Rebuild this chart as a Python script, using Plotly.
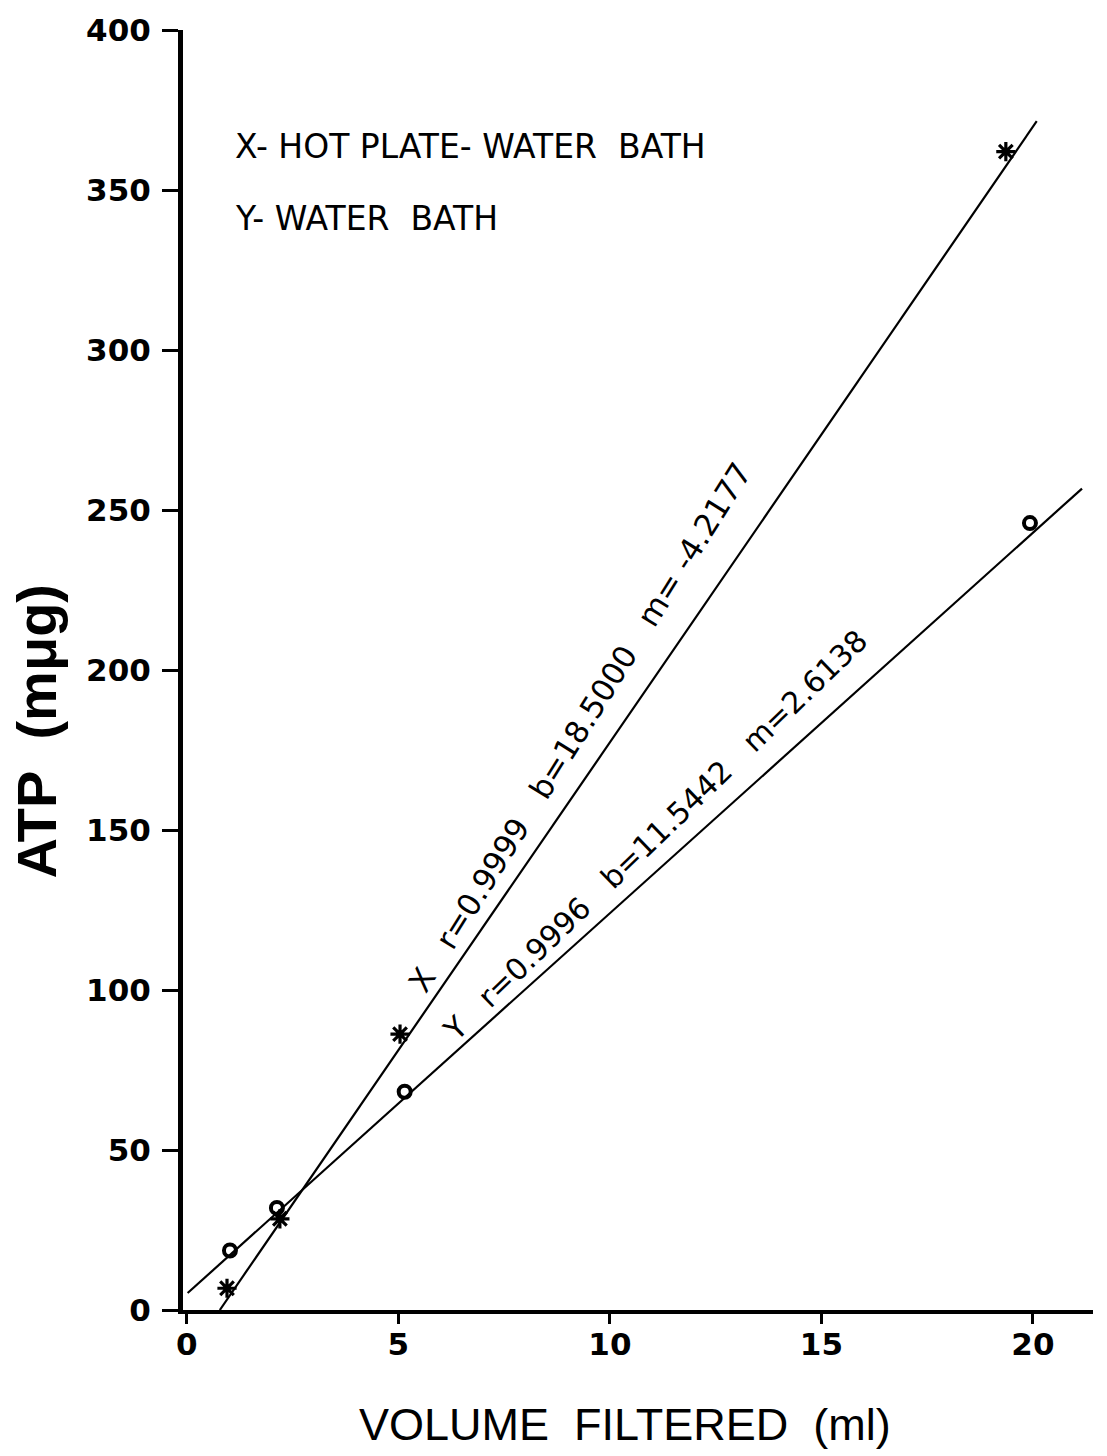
import plotly.graph_objects as go

# Measured points: X = hot plate + water bath, Y = water bath only
x_vol = [0.95, 2.2, 5.04, 19.36]
x_atp = [6.8, 28.5, 86.2, 362.0]
y_vol = [1.02, 2.13, 5.15, 19.93]
y_atp = [18.6, 31.9, 68.2, 245.9]

# Fitted regression lines (end points)
x_fit_vol = [0.78, 20.09]
x_fit_atp = [0.0, 371.5]
y_fit_vol = [0.02, 21.16]
y_fit_atp = [5.3, 256.7]

x_ticks = [0, 5, 10, 15, 20]
y_ticks = [0, 50, 100, 150, 200, 250, 300, 350, 400]

NB = "\u00a0"
x_stats = f"X{NB*3}r=0.9999{NB*3}b=18.5000{NB*3}m={NB}-4.2177"
y_stats = f"Y{NB*3}r=0.9996{NB*3}b=11.5442{NB*3}m=2.6138"

INK = "black"
FONT = "DejaVu Sans"

fig = go.Figure()

for fx, fy in ((x_fit_vol, x_fit_atp), (y_fit_vol, y_fit_atp)):
    fig.add_trace(go.Scatter(x=fx, y=fy, mode="lines",
                             line=dict(color=INK, width=2.2),
                             showlegend=False, cliponaxis=False))

fig.add_trace(go.Scatter(x=x_vol, y=x_atp, mode="markers",
                         marker=dict(symbol="asterisk-open", size=16, color=INK,
                                     line=dict(color=INK, width=3.2)),
                         showlegend=False, cliponaxis=False))
fig.add_trace(go.Scatter(x=y_vol, y=y_atp, mode="markers",
                         marker=dict(symbol="circle-open", size=12, color=INK,
                                     line=dict(color=INK, width=4)),
                         showlegend=False, cliponaxis=False))

annotations = [
    dict(x=1.09, y=363.5, xref="x", yref="y",
         text=f"X-{NB}HOT{NB}PLATE-{NB}WATER{NB*2}BATH",
         showarrow=False, xanchor="left", yanchor="middle",
         font=dict(family=FONT, size=33, color=INK)),
    dict(x=1.09, y=341, xref="x", yref="y",
         text=f"Y-{NB}WATER{NB*2}BATH",
         showarrow=False, xanchor="left", yanchor="middle",
         font=dict(family=FONT, size=33, color=INK)),
    dict(x=9.29, y=182.3, xref="x", yref="y", text=x_stats, textangle=-58,
         showarrow=False, xanchor="center", yanchor="middle",
         font=dict(family=FONT, size=31, color=INK)),
    dict(x=11.07, y=148.2, xref="x", yref="y", text=y_stats, textangle=-44,
         showarrow=False, xanchor="center", yanchor="middle",
         font=dict(family=FONT, size=30, color=INK)),
    # axis titles
    dict(x=37, y=1456 - 727, xref="paper", yref="paper", text=f"ATP{NB*2}(m\u03bcg)",
         textangle=-90, showarrow=False, xanchor="center", yanchor="middle",
         font=dict(family="Liberation Sans", size=56, color=INK, weight="bold")),
    dict(x=625, y=1456 - 1425, xref="paper", yref="paper",
         text=f"VOLUME{NB*2}FILTERED{NB*2}(ml)",
         showarrow=False, xanchor="center", yanchor="middle",
         font=dict(family="Liberation Sans", size=45, color=INK)),
]

# express the title positions in paper fractions of the plot area
L, R, T, B = 183, 14, 20, 146
PW, PH = 1107 - L - R, 1456 - T - B
for a in annotations[4:]:
    a["x"] = (a["x"] - L) / PW
    a["y"] = (a["y"] - B) / PH

fig.update_layout(
    width=1107, height=1456,
    margin=dict(l=L, r=R, t=T, b=B),
    paper_bgcolor="white", plot_bgcolor="white",
    annotations=annotations,
    xaxis=dict(
        range=[-0.09, 21.42], showgrid=False, zeroline=False,
        showline=True, linecolor=INK, linewidth=4,
        ticks="outside", ticklen=10, tickwidth=2.5, tickcolor=INK,
        tickvals=x_ticks, ticklabelstandoff=-6,
        tickfont=dict(family=FONT, size=31, color=INK, weight="bold"),
    ),
    yaxis=dict(
        range=[0, 400], showgrid=False, zeroline=False,
        showline=True, linecolor=INK, linewidth=5,
        ticks="outside", ticklen=16, tickwidth=2.5, tickcolor=INK,
        tickvals=y_ticks, ticklabelstandoff=5,
        tickfont=dict(family=FONT, size=31, color=INK, weight="bold"),
    ),
)

fig.write_html("out.html")
